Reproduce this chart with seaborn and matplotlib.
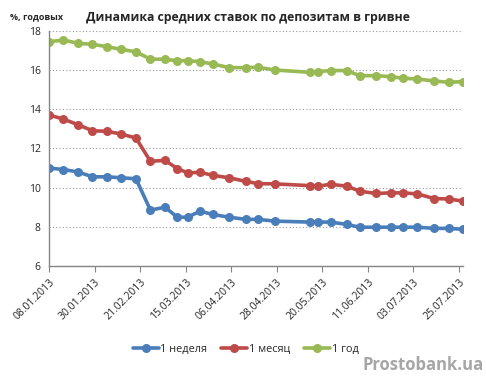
import datetime as dt
import pandas as pd
import matplotlib
matplotlib.use("Agg")
import matplotlib.pyplot as plt
import seaborn as sns

# Days since 08.01.2013 for each observation
day_offsets = [0, 7, 14, 21, 28, 35, 42, 49, 56, 62, 67, 73, 79, 87, 95, 101, 109,
               126, 130, 136, 144, 150, 158, 165, 171, 178, 186, 193, 200]
week_rate = [11.0, 10.92, 10.8, 10.55, 10.55, 10.5, 10.45, 8.85, 9.0, 8.49, 8.49,
             8.8, 8.63, 8.49, 8.38, 8.38, 8.29, 8.24, 8.24, 8.24, 8.12, 7.98,
             7.98, 7.98, 7.98, 7.98, 7.92, 7.92, 7.87]
month_rate = [13.71, 13.49, 13.21, 12.9, 12.87, 12.73, 12.53, 11.34, 11.39, 10.97,
              10.75, 10.78, 10.63, 10.5, 10.32, 10.2, 10.19, 10.1, 10.07, 10.17,
              10.07, 9.82, 9.7, 9.73, 9.73, 9.68, 9.44, 9.42, 9.31]
year_rate = [17.44, 17.53, 17.36, 17.31, 17.19, 17.05, 16.93, 16.55, 16.55, 16.47,
             16.48, 16.42, 16.31, 16.12, 16.12, 16.14, 16.0, 15.88, 15.92, 15.97,
             15.97, 15.71, 15.71, 15.66, 15.58, 15.54, 15.44, 15.37, 15.41]
series_names = ["1 неделя", "1 месяц", "1 год"]
colors = ["#4a7ebb", "#be4b48", "#98b954"]
tick_dates = ["08.01.2013", "30.01.2013", "21.02.2013", "15.03.2013", "06.04.2013",
              "28.04.2013", "20.05.2013", "11.06.2013", "03.07.2013", "25.07.2013"]

start = dt.datetime(2013, 1, 8)
dates = [start + dt.timedelta(days=d) for d in day_offsets]

frames = []
for name, vals in zip(series_names, [week_rate, month_rate, year_rate]):
    frames.append(pd.DataFrame({"date": dates, "rate": vals, "term": name}))
df = pd.concat(frames, ignore_index=True)

sns.set_style("white")
plt.rcParams["font.family"] = ["Open Sans", "DejaVu Sans"]

fig, ax = plt.subplots(figsize=(4.86, 3.8), dpi=100)
fig.subplots_adjust(left=0.1008, right=0.9527, top=0.919, bottom=0.30)

sns.lineplot(data=df, x="date", y="rate", hue="term", palette=colors,
             marker="o", markersize=6.5, markeredgewidth=0, linewidth=2.6,
             ax=ax)

ax.set_ylim(6, 18)
ax.set_yticks(range(6, 19, 2))
ax.set_xlim(dates[0], dates[-1])
ticks = [dt.datetime.strptime(t, "%d.%m.%Y") for t in tick_dates]
ax.set_xticks(ticks)
ax.set_xticklabels(tick_dates, rotation=45, ha="right", rotation_mode="anchor",
                   fontsize=7.5)
ax.tick_params(axis="y", labelsize=7.5, length=3, color="#868686", pad=3)
ax.tick_params(axis="x", length=4, color="#868686", direction="out", bottom=True)
ax.set_xlabel("")
ax.set_ylabel("")

ax.grid(axis="y", linestyle=(0, (1, 2)), color="#9a9a9a", linewidth=0.8)
ax.set_axisbelow(True)
for s in ["top", "right"]:
    ax.spines[s].set_visible(False)
for s in ["left", "bottom"]:
    ax.spines[s].set_color("#868686")
    ax.spines[s].set_linewidth(1.0)

ax.legend(loc="upper center", bbox_to_anchor=(0.475, -0.29), ncol=3,
          frameon=False, fontsize=7.8, handlelength=2.4, columnspacing=1.3,
          handletextpad=0.15)

fig.text(0.511, 0.955, "Динамика средних ставок по депозитам в гривне",
         ha="center", va="center", fontsize=8.8, fontweight="bold")
fig.text(0.02, 0.955, "%, годовых", ha="left", va="center", fontsize=6.5,
         fontweight="bold")
fig.text(0.995, 0.04, "Prostobank.ua", ha="right", va="center", fontsize=12,
         fontweight="bold", color="#a6a6a6")

fig.savefig("out.png", dpi=100)
